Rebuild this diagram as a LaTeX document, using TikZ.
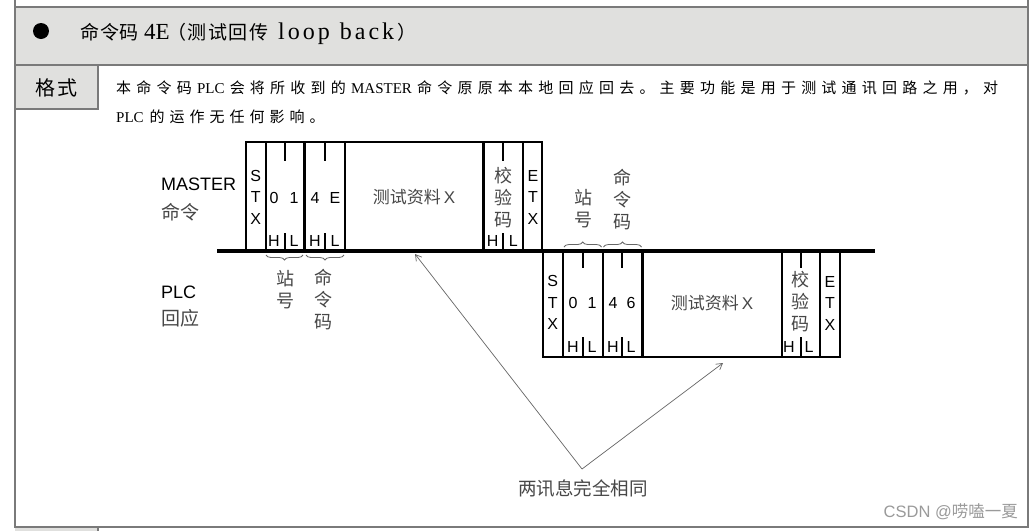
\documentclass[tikz,border=0pt]{standalone}
\usepackage{fontspec}
\setmainfont{Liberation Serif}
\newfontfamily\cjk{Noto Sans CJK SC}
\newfontfamily\arial{Liberation Sans}
\usetikzlibrary{arrows.meta,decorations.pathreplacing}
\definecolor{bandgray}{HTML}{E0E0DE}
\definecolor{framegray}{HTML}{7A7A7A}
\definecolor{wmgray}{HTML}{9A9A9A}
\def\SP#1{\ifx\relax#1\else#1\hfill\expandafter\SP\fi}
\newdimen\LSk
\def\LS#1{\ifx\relax#1\else#1\kern\LSk\expandafter\LS\fi}
\begin{document}
\begin{tikzpicture}[x=1pt,y=-1pt,
  cellline/.style={line width=2.4pt,line cap=rect},
  tickline/.style={line width=2.2pt},
  busline/.style={line width=4.5pt},
  lat/.style={font=\arial\fontsize{16}{21.5}\selectfont,inner sep=0pt,align=center},
  zh/.style={font=\cjk\fontsize{18}{22}\selectfont,text=black!72,inner sep=0pt,align=center},
  side/.style={anchor=west,inner sep=0pt},
  hd/.style={anchor=base west,inner sep=0pt},
  bracestyle/.style={draw=black!60,line width=0.8pt,decorate,decoration={brace,amplitude=5pt}},
  ptr/.style={draw=black!60,line width=0.7pt,-{Straight Barb[length=6pt,width=7pt]}}]
\useasboundingbox (0,0) rectangle (1034,531);
\fill[white] (0,0) rectangle (1034,531);
% page frame
\draw[framegray,fill=bandgray,line width=1.2pt] (15,7) rectangle (1028,65);
\draw[framegray,fill=bandgray,line width=1.2pt] (15,65) rectangle (98,109);
\fill[bandgray] (15,527) rectangle (98,531);
\draw[framegray,line width=1.2pt] (98,527) -- (98,531);
\draw[framegray,line width=1.5pt] (15,0) -- (15,527) -- (1028,527) -- (1028,0);
% header
\node[circle,fill=black,inner sep=0pt,minimum size=16pt] (bullet) at (41,31) {};
\node[hd] (h1) at (80.5,39.5) {\cjk\fontsize{19}{22}\selectfont\LSk=0.6pt\LS 命令码\relax};
\node[hd] (h2) at (144,39.5) {\fontsize{23}{26}\selectfont 4E};
\node[hd] (h3) at (167,39.5) {\cjk\fontsize{19}{22}\selectfont\LSk=1.5pt\LS （测试回传\relax};
\node[hd] (h4) at (278,39.5) {\fontsize{24}{27}\selectfont\LSk=3pt\LS loop\relax\hspace{7pt}\LS back\relax};
\node[hd] (h5) at (397,39.5) {\cjk\fontsize{19}{22}\selectfont ）};
\node[inner sep=0pt] (fmt) at (56,88) {\cjk\fontsize{20}{22}\selectfont\makebox[42pt][s]{\SP 格式\relax\unskip}};
\node[side] (body1) at (116,88) {\fontsize{15}{18}\selectfont\makebox[882pt][s]{\cjk\SP 本命令码\relax\rmfamily PLC\hfill\cjk\SP 会将所收到的\relax\rmfamily MASTER\hfill\cjk\SP 命令原原本本地回应回去。主要功能是用于测试通讯回路之用，对\relax\unskip}};
\node[side] (body2) at (116,117) {\fontsize{15}{18}\selectfont PLC\hspace{6pt}\cjk\LSk=5pt\LS 的运作无任何影响。\relax};
% master frame
\draw[cellline] (245.7,251) -- (245.7,142) -- (541.7,142) -- (541.7,251);
\foreach \x in {265.7,304.3,345,483.3,522.7} \draw[cellline] (\x,142) -- (\x,251);
\foreach \x in {285,325,502.7} {\draw[tickline] (\x,142) -- (\x,161); \draw[tickline] (\x,233) -- (\x,251);}
% plc frame
\draw[cellline] (542.7,251) -- (542.7,357) -- (840,357) -- (840,251);
\foreach \x in {562.7,602.7,642.3,781.7,820} \draw[cellline] (\x,251) -- (\x,357);
\foreach \x in {582.7,622,800.7} {\draw[tickline] (\x,251) -- (\x,268); \draw[tickline] (\x,337) -- (\x,357);}
% bus
\draw[busline] (217,251) -- (875,251);
% side labels
\node[side,font=\arial\fontsize{18}{20}\selectfont] (lmaster) at (161,184) {MASTER};
\node[side,font=\cjk\fontsize{19}{22}\selectfont,text=black!72] (lcmd) at (161,212) {命令};
\node[side,font=\arial\fontsize{18}{20}\selectfont] (lplc) at (161,292) {PLC};
\node[side,font=\cjk\fontsize{19}{22}\selectfont,text=black!72] (lresp) at (161,318) {回应};
% master cell texts
\node[lat] (mstx) at (255.7,197) {S\\T\\X};
\node[lat] (ms0) at (274,198) {0};
\node[lat] (ms1) at (294,198) {1};
\node[lat] (mc4) at (315,198) {4};
\node[lat] (mcE) at (335,198) {E};
\node[lat] (msH) at (274,241) {H};
\node[lat] (msL) at (294,241) {L};
\node[lat] (mcH) at (315,241) {H};
\node[lat] (mcL) at (335,241) {L};
\node[zh,font=\cjk\fontsize{17}{22}\selectfont] (mdata) at (414,197) {测试资料\,{\arial X}};
\node[zh] (mchk) at (503,197.5) {校\\验\\码};
\node[lat] (mkH) at (492.7,241) {H};
\node[lat] (mkL) at (513.3,241) {L};
\node[lat] (metx) at (533,197) {E\\T\\X};
% plc cell texts
\node[lat] (pstx) at (552.7,302.5) {S\\T\\X};
\node[lat] (ps0) at (573,303) {0};
\node[lat] (ps1) at (592,303) {1};
\node[lat] (pc4) at (613,303) {4};
\node[lat] (pc6) at (631,303) {6};
\node[lat] (psH) at (573,347) {H};
\node[lat] (psL) at (592,347) {L};
\node[lat] (pcH) at (613,347) {H};
\node[lat] (pcL) at (631,347) {L};
\node[zh,font=\cjk\fontsize{17}{22}\selectfont] (pdata) at (712,303) {测试资料\,{\arial X}};
\node[zh] (pchk) at (800.8,302) {校\\验\\码};
\node[lat] (pkH) at (789,347) {H};
\node[lat] (pkL) at (809,347) {L};
\node[lat] (petx) at (830,303) {E\\T\\X};
% braces and labels
\draw[bracestyle,decoration={mirror}] (266,255) -- (303,255);
\draw[bracestyle,decoration={mirror}] (306,255) -- (344,255);
\node[zh] (mstation) at (285,290) {站\\号};
\node[zh] (mcode) at (323.5,300) {命\\令\\码};
\draw[bracestyle] (564,247) -- (601.5,247);
\draw[bracestyle] (603.5,247) -- (641.5,247);
\node[zh] (pstation) at (583,209) {站\\号};
\node[zh] (pcode) at (622.5,200) {命\\令\\码};
% pointers
\coordinate (apex) at (582,469);
\coordinate (tgt1) at (415,254);
\coordinate (tgt2) at (723,363);
\draw[ptr] (apex) -- (tgt1);
\draw[ptr] (apex) -- (tgt2);
\node[zh,font=\cjk\fontsize{18.5}{22}\selectfont] (same) at (583,488) {两讯息完全相同};
% watermark
\node[anchor=east,inner sep=0pt,text=wmgray,font=\arial\fontsize{16.5}{20}\selectfont] (wm) at (1018,512) {CSDN @{\cjk 唠嗑一夏}};
\end{tikzpicture}
\end{document}
